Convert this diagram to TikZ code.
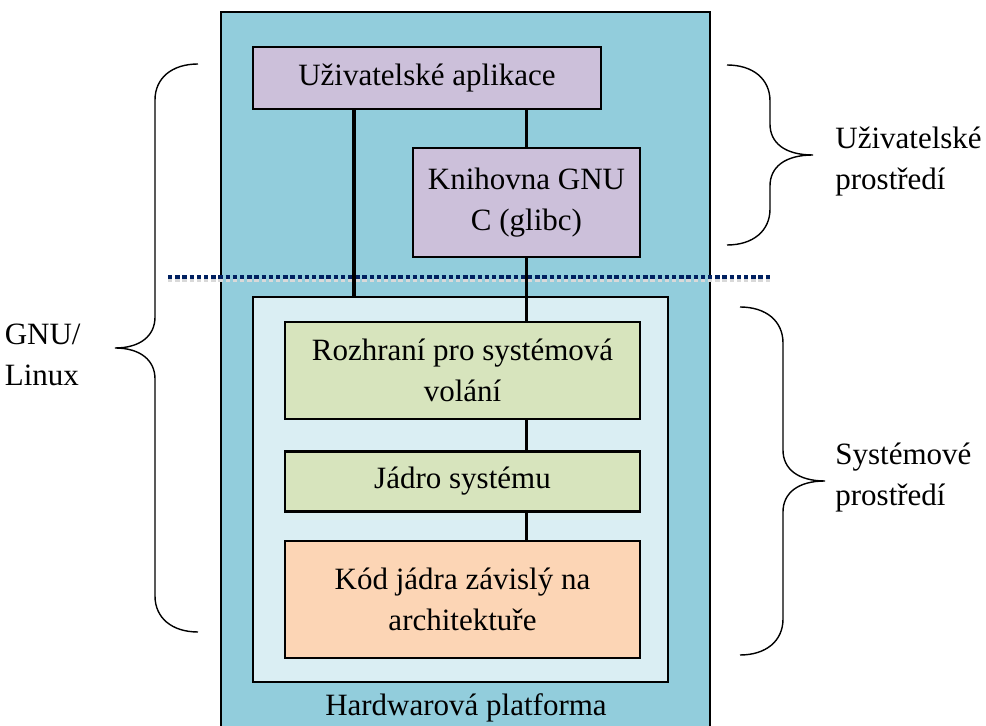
\documentclass[tikz,border=0pt]{standalone}
\usepackage{fontspec}
\setmainfont{Liberation Serif}
\definecolor{hwblue}{RGB}{146, 205, 220}
\definecolor{kernfill}{RGB}{218, 238, 243}
\definecolor{userfill}{RGB}{204, 192, 218}
\definecolor{corefill}{RGB}{215, 228, 189}
\definecolor{archfill}{RGB}{252, 213, 181}
\definecolor{splitnavy}{RGB}{0, 32, 96}
\usetikzlibrary{positioning}
\tikzset{
    every node/.style={font=\fontsize{15.5}{20.5}\selectfont},
    layer/.style={draw, line width=1.2pt, align=center, inner sep=0pt},
    userlayer/.style={layer, fill=userfill},
    corelayer/.style={layer, fill=corefill, minimum width=177.5pt},
    link/.style={line width=1.9pt},
    bracestroke/.style={line width=0.7pt},
    splitline/.style={line width=2pt, dash pattern=on 2.2pt off 1.4pt},
}

\begin{document}
\begin{tikzpicture}[x=0.5pt, y=-0.5pt]
    \useasboundingbox (0,0) rectangle (986,726);
    \clip (0,0) rectangle (986,726);
    \draw[fill=hwblue, line width=1pt] (221,12) rectangle (710,760);
    \node (hwlabel) at (466,708) {Hardwarová platforma};
    % user space / system space split
    \draw[splitline, black!15] (168,280) -- (771,280);
    \draw[splitline, splitnavy] (168,277) -- (771,277);

    \node[userlayer, minimum width=174pt, minimum height=31pt] (userapp)
        at (427,78) {Uživatelské aplikace};
    \node[userlayer, minimum width=113.5pt, minimum height=54.5pt] (glibc)
        at (526.5,202.5) {Knihovna GNU\\C (glibc)};
    \node[draw, line width=1pt, fill=kernfill, minimum width=207.5pt,
        minimum height=192.5pt] (kernspace) at (460.5,490) {};
    \node[corelayer, minimum height=48.5pt] (syscall) at (462.5,370.5)
        {Rozhraní pro systémová\\volání};
    \node[corelayer, minimum height=30pt, below=15pt of syscall] (kernel)
        {Jádro systému};
    \node[layer, fill=archfill, minimum width=177.5pt, minimum height=58.5pt,
        below=13.5pt of kernel] (archcode) {Kód jádra závislý na\\architektuře};

    \coordinate (leftdrop) at (354,0);
    \draw[link] (userapp.south -| leftdrop) -- (kernspace.north -| leftdrop);
    \draw[link] (glibc.north) -- (glibc.north |- userapp.south);
    \draw[link] (glibc.south) -- (glibc.south |- syscall.north);
    \draw[link] (syscall.south -| glibc.south) -- (kernel.north -| glibc.south);
    \draw[link] (kernel.south -| glibc.south) -- (archcode.north -| glibc.south);

    % braces
    \draw[bracestroke] (198,64) .. controls (172,64) and (155,78) .. (155,100)
        -- (155,317) .. controls (155,336) and (140,348) .. (115,348)
        coordinate (gnutip) .. controls (140,348) and (155,360) .. (155,379)
        -- (155,596) .. controls (155,618) and (172,632) .. (198,632);
    \draw[bracestroke] (727,65) .. controls (753,65) and (770,79) .. (770,101)
        -- (770,124) .. controls (770,143) and (785,155) .. (813,155)
        coordinate (usertip) .. controls (785,155) and (770,167) .. (770,186)
        -- (770,209) .. controls (770,231) and (753,245) .. (727,245);
    \draw[bracestroke] (740,307) .. controls (766,307) and (783,321) .. (783,343)
        -- (783,450) .. controls (783,469) and (798,481) .. (825,481)
        coordinate (systip) .. controls (798,481) and (783,493) .. (783,512)
        -- (783,619) .. controls (783,641) and (766,655) .. (740,655);

    \node[left=17pt of gnutip, inner sep=0pt, align=left, yshift=-3.5pt]
        (gnulabel) {GNU/\\Linux};
    \node[right=11pt of usertip, inner sep=0pt, align=left, yshift=-3.5pt]
        (userlabel) {Uživatelské\\prostředí};
    \node[right=5pt of systip, inner sep=0pt, align=left, yshift=1.5pt]
        (syslabel) {Systémové\\prostředí};
\end{tikzpicture}
\end{document}
